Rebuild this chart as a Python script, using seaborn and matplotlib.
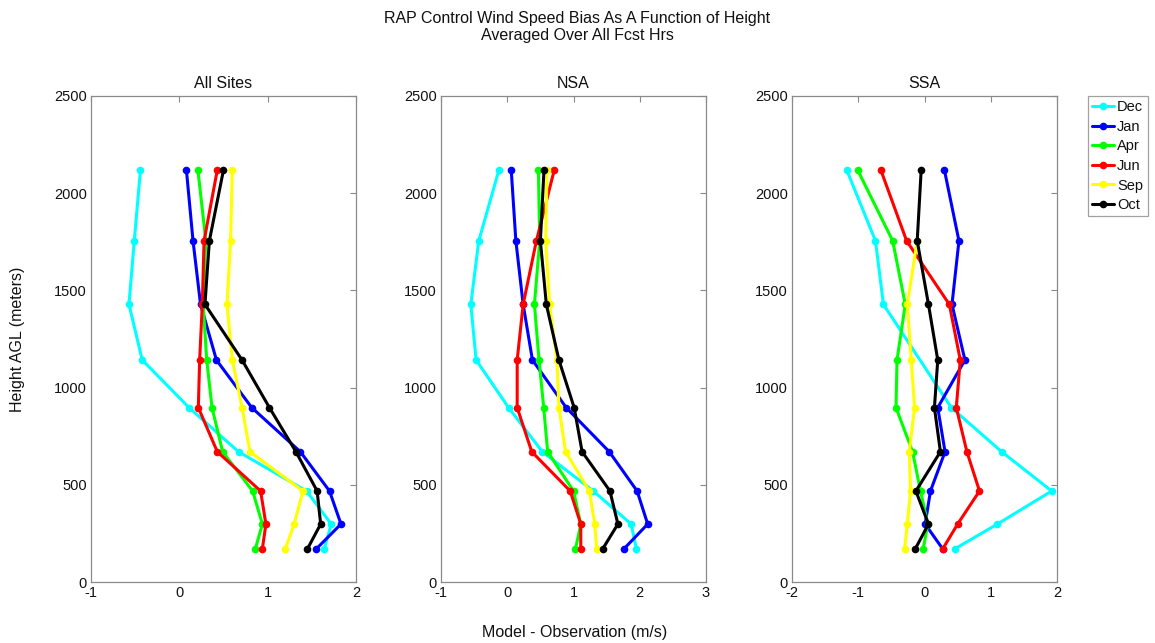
import numpy as np
import pandas as pd
import matplotlib
matplotlib.use("Agg")
import matplotlib.pyplot as plt
import seaborn as sns

# ---------------- data ----------------
months = ["Dec", "Jan", "Apr", "Jun", "Sep", "Oct"]
colors = ["#00FFFF", "#0000FF", "#00FF00", "#FF0000", "#FFFF00", "#000000"]
heights = [170, 298, 468, 670, 897, 1142, 1428, 1755, 2120]

panel_titles = ["All Sites", "NSA", "SSA"]
x_limits = [(-1, 2), (-1, 3), (-2, 2)]
y_ticks = [0, 500, 1000, 1500, 2000, 2500]

nan = np.nan
# All Sites (values from lowest to highest level)
all_dec = [1.64, 1.72, 1.44, 0.67, 0.11, -0.42, -0.57, -0.51, -0.44]
all_jan = [1.55, 1.83, 1.70, 1.37, 0.82, 0.42, 0.24, 0.155, 0.08]
all_apr = [0.86, 0.94, 0.83, 0.49, 0.37, 0.31, 0.27, 0.30, 0.21]
all_jun = [0.94, 0.98, 0.92, 0.43, 0.215, 0.23, 0.26, 0.28, 0.43]
all_sep = [1.20, 1.30, 1.40, 0.80, 0.71, 0.60, 0.54, 0.58, 0.60]
all_oct = [1.45, 1.60, 1.56, 1.32, 1.02, 0.71, 0.29, 0.34, 0.50]

# NSA
nsa_dec = [1.95, 1.87, 1.30, 0.53, 0.02, -0.47, -0.55, -0.43, -0.125]
nsa_jan = [1.76, 2.12, 1.96, 1.54, 0.89, 0.38, 0.24, 0.13, 0.06]
nsa_apr = [1.03, 1.11, 1.00, 0.61, 0.55, 0.48, 0.41, 0.49, 0.47]
nsa_jun = [1.11, 1.11, 0.95, 0.37, 0.15, 0.15, 0.24, 0.44, 0.71]
nsa_sep = [1.35, 1.32, 1.24, 0.88, 0.78, 0.75, 0.64, 0.58, 0.60]
nsa_oct = [1.44, 1.67, 1.55, 1.13, 1.01, 0.78, 0.59, 0.50, 0.555]

# SSA
ssa_dec = [0.455, 1.10, 1.92, 1.165, 0.405, nan, -0.62, -0.74, -1.175]
ssa_jan = [0.275, 0.01, 0.09, 0.31, 0.20, 0.61, 0.415, 0.52, 0.30]
ssa_apr = [-0.02, 0.05, -0.06, -0.18, -0.43, -0.415, -0.29, -0.48, -1.01]
ssa_jun = [0.275, 0.50, 0.83, 0.64, 0.48, 0.54, 0.375, -0.27, -0.66]
ssa_sep = [-0.30, -0.26, -0.21, -0.23, -0.15, -0.20, -0.26, -0.11, nan]
ssa_oct = [-0.14, 0.06, -0.13, 0.24, 0.15, 0.20, 0.06, -0.11, -0.05]

panels = [
    [all_dec, all_jan, all_apr, all_jun, all_sep, all_oct],
    [nsa_dec, nsa_jan, nsa_apr, nsa_jun, nsa_sep, nsa_oct],
    [ssa_dec, ssa_jan, ssa_apr, ssa_jun, ssa_sep, ssa_oct],
]

# ---------------- style ----------------
sns.set_style("white")
plt.rcParams["font.family"] = ["Liberation Sans", "DejaVu Sans"]
plt.rcParams["font.size"] = 11
plt.rcParams["axes.unicode_minus"] = False
plt.rcParams["text.color"] = "#111111"

W, H = 1155, 643
fig = plt.figure(figsize=(W / 100, H / 100), dpi=100)

ax_lefts = [91, 441, 792]
ax_w, ax_top, ax_bot = 265, 96, 582
palette = dict(zip(months, colors))
edge = "#8a8a8a"

axes = []
for i, (title, series) in enumerate(zip(panel_titles, panels)):
    ax = fig.add_axes([ax_lefts[i] / W, 1 - ax_bot / H, ax_w / W, (ax_bot - ax_top) / H])
    rows = []
    for m, vals in zip(months, series):
        for h, v in zip(heights, vals):
            if not np.isnan(v):
                rows.append({"month": m, "height": h, "bias": v})
    df = pd.DataFrame(rows)
    sns.lineplot(data=df, x="bias", y="height", hue="month", hue_order=months,
                 palette=palette, marker="o", markersize=5.5, markeredgewidth=0,
                 linewidth=2.2, sort=False, estimator=None, ax=ax, legend=(i == 0))
    ax.set_xlim(*x_limits[i])
    ax.set_ylim(0, 2500)
    ax.set_xticks(np.arange(x_limits[i][0], x_limits[i][1] + 1, 1))
    ax.set_yticks(y_ticks)
    ax.set_xlabel("")
    ax.set_ylabel("")
    ax.set_title(title, fontsize=11.5, pad=6, color="#111111")
    ax.tick_params(direction="in", top=True, right=True, length=4, width=0.8,
                   color=edge, labelcolor="#111111", labelsize=10.5, pad=3)
    for s in ax.spines.values():
        s.set_color(edge)
        s.set_linewidth(0.9)
    axes.append(ax)

handles, labels = axes[0].get_legend_handles_labels()
axes[0].get_legend().remove()
leg = fig.legend(handles, labels, loc="upper left",
                 bbox_to_anchor=(1088 / W, 1 - 96 / H), frameon=True, fancybox=False,
                 fontsize=10.5, handlelength=1.5, handletextpad=0.2,
                 labelspacing=0.38, borderpad=0.3, borderaxespad=0)
leg.get_frame().set_edgecolor(edge)
leg.get_frame().set_linewidth(0.9)

fig.text(0.5, 1 - 27 / H, "RAP Control Wind Speed Bias As A Function of Height\nAveraged Over All Fcst Hrs",
         ha="center", va="center", fontsize=11.5, linespacing=1.15)
fig.text(575 / W, 1 - 632 / H, "Model - Observation (m/s)", ha="center", va="center", fontsize=11.5)
fig.text(18 / W, 1 - 339 / H, "Height AGL (meters)", ha="center", va="center",
         rotation=90, fontsize=11.5)

fig.savefig("out.png", dpi=100)
